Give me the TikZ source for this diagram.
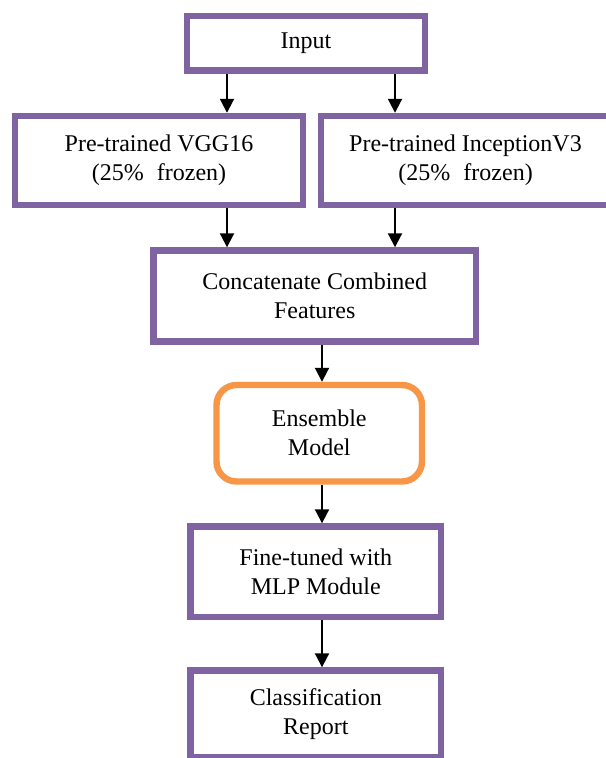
\documentclass[tikz,border=0pt]{standalone}
\usepackage{fontspec}
\setmainfont{Liberation Serif}
\usetikzlibrary{arrows.meta}
\definecolor{boxpurple}{HTML}{8064A2}
\definecolor{boxorange}{HTML}{F79646}

\begin{document}
\begin{tikzpicture}[
				x=0.5pt, y=-0.5pt,
				block/.style = {draw=boxpurple, line width=3.2pt, fill=white, align=center, inner sep=0pt,
						font=\fontsize{12}{14.5}\selectfont},
				roundblock/.style = {block, draw=boxorange, rounded corners=10pt},
				flow/.style = {-{Triangle[length=7pt,width=7pt]}, line width=1pt, black},
			]
			\path[use as bounding box] (0,0) rectangle (605,758);
			\coordinate (laneL) at (227,0);
			\coordinate (laneR) at (395,0);
			\coordinate (laneM) at (322,0);
			\node[block, minimum width=119pt, minimum height=27.25pt] (input) at (306,43.25) {Input};
			\node[block, minimum width=144pt, minimum height=44.5pt] (vgg) at (159,160.5) {Pre-trained VGG16\\(25\%\hspace{0.55em}frozen)};
			\node[block, minimum width=144.5pt, minimum height=44.5pt] (incep) at (465.5,160.5) {Pre-trained InceptionV3\\(25\%\hspace{0.55em}frozen)};
			\node[block, minimum width=161.25pt, minimum height=45.5pt] (concat) at (314.75,296) {Concatenate Combined\\Features};
			\node[roundblock, minimum width=102.75pt, minimum height=48.25pt] (ensemble) at (319.25,433.25) {Ensemble\\Model};
			\node[block, minimum width=125.25pt, minimum height=45.25pt] (finetune) at (315.75,571.75) {Fine-tuned with\\MLP Module};
			\node[block, minimum width=125.25pt, minimum height=43.5pt] (report) at (315.75,714) {Classification\\Report};
			\draw[flow] (input.south -| laneL) -- (vgg.north -| laneL);
			\draw[flow] (input.south -| laneR) -- (incep.north -| laneR);
			\draw[flow] (vgg.south -| laneL) -- (concat.north -| laneL);
			\draw[flow] (incep.south -| laneR) -- (concat.north -| laneR);
			\draw[flow] (concat.south -| laneM) -- (ensemble.north -| laneM);
			\draw[flow] (ensemble.south -| laneM) -- (finetune.north -| laneM);
			\draw[flow] (finetune.south -| laneM) -- (report.north -| laneM);
		\end{tikzpicture}
\end{document}
